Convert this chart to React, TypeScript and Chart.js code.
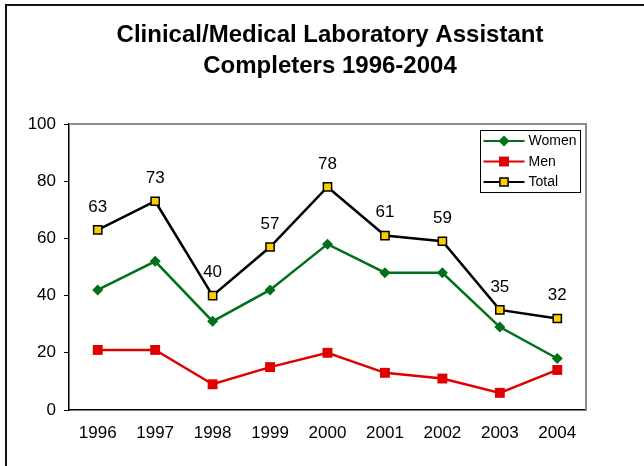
import React, { useEffect, useRef } from 'react';
import { Chart, registerables } from 'chart.js';

Chart.register(...registerables);

const years: string[] = ['1996', '1997', '1998', '1999', '2000', '2001', '2002', '2003', '2004'];
const women: number[] = [42, 52, 31, 42, 58, 48, 48, 29, 18];
const men: number[] = [21, 21, 9, 15, 20, 13, 11, 6, 14];
const total: number[] = [63, 73, 40, 57, 78, 61, 59, 35, 32];
const titleLines: string[] = ['Clinical/Medical Laboratory Assistant', 'Completers 1996-2004'];
const yMin = 0;
const yMax = 100;
const yStep = 20;

const FONT = "'Liberation Sans', Arial, Helvetica, sans-serif";

const decorPlugin = {
  id: 'decor',
  beforeDatasetsDraw(chart: any) {
    const { ctx, chartArea } = chart;
    ctx.save();
    ctx.strokeStyle = '#8a8a8a';
    ctx.lineWidth = 2;
    ctx.beginPath();
    ctx.moveTo(chartArea.left, chartArea.top);
    ctx.lineTo(chartArea.right, chartArea.top);
    ctx.lineTo(chartArea.right, chartArea.bottom);
    ctx.stroke();
    ctx.restore();
  },
  afterDatasetsDraw(chart: any) {
    const { ctx } = chart;
    const meta = chart.getDatasetMeta(2);
    const ds = chart.data.datasets[2];
    ctx.save();
    ctx.fillStyle = '#000';
    ctx.font = `17px ${FONT}`;
    ctx.textAlign = 'center';
    ctx.textBaseline = 'middle';
    meta.data.forEach((pt: any, i: number) => {
      ctx.fillText(String(ds.data[i]), pt.x, pt.y - 23);
    });
    ctx.restore();
  },
  afterDraw(chart: any) {
    const { ctx, chartArea } = chart;
    ctx.save();
    // outer frame
    ctx.strokeStyle = '#111';
    ctx.lineWidth = 2;
    ctx.strokeRect(6, 5, 900, 900);
    // legend
    const bx = chartArea.right - 105.5;
    const by = chartArea.top + 6.5;
    const bw = 100;
    const bh = 62;
    ctx.fillStyle = '#fff';
    ctx.fillRect(bx, by, bw, bh);
    ctx.strokeStyle = '#000';
    ctx.lineWidth = 1;
    ctx.strokeRect(bx, by, bw, bh);
    const rowY = [by + 10.5, by + 31, by + 51.5];
    chart.data.datasets.forEach((ds: any, i: number) => {
      const y = rowY[i];
      const x0 = bx + 3;
      const x1 = bx + 44;
      const cx = (x0 + x1) / 2;
      ctx.strokeStyle = ds.borderColor;
      ctx.lineWidth = 2;
      ctx.beginPath();
      ctx.moveTo(x0, y);
      ctx.lineTo(x1, y);
      ctx.stroke();
      ctx.fillStyle = ds.pointBackgroundColor;
      ctx.strokeStyle = ds.pointBorderColor;
      ctx.lineWidth = ds.pointBorderWidth;
      ctx.beginPath();
      if (ds.pointStyle === 'rectRot') {
        const r = 5.5;
        ctx.moveTo(cx, y - r);
        ctx.lineTo(cx + r, y);
        ctx.lineTo(cx, y + r);
        ctx.lineTo(cx - r, y);
        ctx.closePath();
      } else {
        const s = ds.pointRadius * Math.SQRT1_2;
        ctx.rect(cx - s, y - s, 2 * s, 2 * s);
      }
      ctx.fill();
      if (ds.pointBorderWidth > 0) ctx.stroke();
      ctx.fillStyle = '#000';
      ctx.font = `14px ${FONT}`;
      ctx.textAlign = 'left';
      ctx.textBaseline = 'middle';
      ctx.fillText(ds.label, x1 + 4, y + 0.5);
    });
    ctx.restore();
  },
};

export default function App() {
  const ref = useRef<HTMLCanvasElement | null>(null);

  useEffect(() => {
    if (!ref.current) return;
    Chart.defaults.font.family = FONT;
    Chart.defaults.color = '#000';
    const chart = new Chart(ref.current, {
      type: 'line',
      data: {
        labels: years,
        datasets: [
          {
            label: 'Women',
            data: women,
            borderColor: '#00701c',
            backgroundColor: '#00701c',
            borderWidth: 2.5,
            pointStyle: 'rectRot',
            pointRadius: 5.5,
            pointBackgroundColor: '#00701c',
            pointBorderColor: '#00701c',
            pointBorderWidth: 0,
            tension: 0,
          },
          {
            label: 'Men',
            data: men,
            borderColor: '#e00000',
            backgroundColor: '#e00000',
            borderWidth: 2.5,
            pointStyle: 'rect',
            pointRadius: 7,
            pointBackgroundColor: '#e00000',
            pointBorderColor: '#e00000',
            pointBorderWidth: 0,
            tension: 0,
          },
          {
            label: 'Total',
            data: total,
            borderColor: '#000000',
            backgroundColor: '#ffcc00',
            borderWidth: 2.5,
            pointStyle: 'rect',
            pointRadius: 5.8,
            pointBackgroundColor: '#ffcc00',
            pointBorderColor: '#000000',
            pointBorderWidth: 1.5,
            tension: 0,
          },
        ],
      } as any,
      options: {
        responsive: false,
        animation: false,
        layout: { padding: { left: 16, right: 0, top: 0, bottom: 0 } },
        plugins: {
          legend: { display: false },
          tooltip: { enabled: false },
          title: {
            display: true,
            text: titleLines,
            color: '#000',
            font: { size: 24, weight: 'bold', family: FONT, lineHeight: 1.29 },
            padding: { top: 19.5, bottom: 42.6 },
          },
        },
        scales: {
          x: {
            offset: true,
            grid: { display: true, drawOnChartArea: false, drawTicks: false, color: '#000' },
            border: { color: '#000', width: 1.5 },
            ticks: { font: { size: 17, family: FONT }, color: '#000', padding: 13, maxRotation: 0 },
            afterFit(scale: any) {
              scale.height = 56;
            },
          },
          y: {
            min: yMin,
            max: yMax,
            grid: { drawOnChartArea: false, drawTicks: true, tickLength: 5, color: '#000' },
            border: { color: '#000', width: 1.5 },
            ticks: { stepSize: yStep, font: { size: 17, family: FONT }, color: '#000', padding: 8 },
            afterFit(scale: any) {
              scale.width = 53;
            },
          },
          yRight: {
            position: 'right',
            display: true,
            grid: { display: false },
            border: { display: false },
            ticks: { display: false },
            afterFit(scale: any) {
              scale.width = 58;
            },
          },
        },
      } as any,
      plugins: [decorPlugin],
    });
    return () => chart.destroy();
  }, []);

  return (
    <div style={{ position: 'absolute', left: 0, top: 0, width: 644, height: 466, background: '#fff' }}>
      <canvas ref={ref} width={644} height={466} style={{ display: 'block' }} />
    </div>
  );
}
